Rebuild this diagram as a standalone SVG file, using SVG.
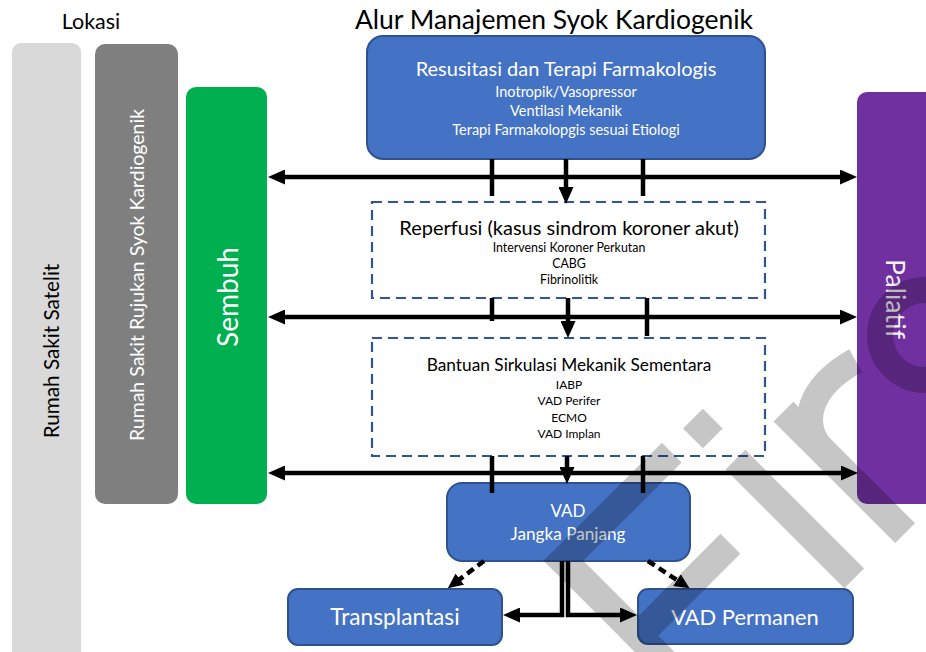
<svg xmlns="http://www.w3.org/2000/svg" width="926" height="652" viewBox="0 0 926 652">
<style>
text { font-family: Lato, "Open Sans", "Liberation Sans", sans-serif; }
.blk { fill: #000; }
.wht { fill: #fff; }
.bluebox { fill: #4472C4; stroke: #2F528F; stroke-width: 2; }
.dash { fill: none; stroke: #2F5597; stroke-width: 2.2; stroke-dasharray: 10 6; }
.conn { fill: none; stroke: #000; stroke-width: 4.5; }
.dconn { fill: none; stroke: #000; stroke-width: 4.5; stroke-dasharray: 8 5; }
</style>
<defs>
<marker id="ah" viewBox="0 0 17 15" markerWidth="17" markerHeight="15" refX="8" refY="7.5" orient="auto-start-reverse" markerUnits="userSpaceOnUse"><path d="M0,0 L17,7.5 L0,15 Z" fill="#000"/></marker>
<marker id="ahs" viewBox="0 0 15 14" markerWidth="15" markerHeight="14" refX="6" refY="7" orient="auto" markerUnits="userSpaceOnUse"><path d="M0,0 L15,7 L0,14 Z" fill="#000"/></marker>
</defs>
<rect width="926" height="652" fill="#fff"/>

<text x="91" y="29" font-size="21.5" text-anchor="middle" class="blk">Lokasi</text>
<text x="554" y="29" font-size="26.5" text-anchor="middle" class="blk">Alur Manajemen Syok Kardiogenik</text>

<g id="satelit">
<rect x="12" y="43" width="69" height="640" rx="9" fill="#D9D9D9"/>
<text transform="translate(59,351) rotate(-90)" font-size="20.7" text-anchor="middle" class="blk">Rumah Sakit Satelit</text>
</g>
<g id="rujukan">
<rect x="95" y="44" width="83" height="460" rx="10" fill="#7F7F7F"/>
<text transform="translate(144,275) rotate(-90)" font-size="19.5" text-anchor="middle" class="wht">Rumah Sakit Rujukan Syok Kardiogenik</text>
</g>
<g id="sembuh">
<rect x="186" y="87" width="81" height="417" rx="10" fill="#00B050"/>
<text transform="translate(238,297) rotate(-90)" font-size="28" text-anchor="middle" class="wht">Sembuh</text>
</g>
<g id="paliatif">
<rect x="857" y="92" width="90" height="412" rx="10" fill="#7030A0"/>
<text transform="translate(886,299) rotate(90)" font-size="26.5" text-anchor="middle" fill="#F2F2F2">Paliatif</text>
</g>

<g id="resusitasi">
<rect x="367" y="36" width="398" height="123" rx="16" class="bluebox"/>
<text x="566" y="76" font-size="20" text-anchor="middle" class="wht">Resusitasi dan Terapi Farmakologis</text>
<text x="566" y="97" font-size="14.5" text-anchor="middle" class="wht">Inotropik/Vasopressor</text>
<text x="566" y="116" font-size="14.5" text-anchor="middle" class="wht">Ventilasi Mekanik</text>
<text x="566" y="135" font-size="14.5" text-anchor="middle" class="wht">Terapi Farmakolopgis sesuai Etiologi</text>
</g>

<g id="reperfusi">
<rect x="372" y="202" width="393" height="96" class="dash"/>
<text x="569" y="235" font-size="20" text-anchor="middle" class="blk">Reperfusi (kasus sindrom koroner akut)</text>
<text x="569" y="252" font-size="12.4" text-anchor="middle" class="blk">Intervensi Koroner Perkutan</text>
<text x="569" y="268" font-size="12.4" text-anchor="middle" class="blk">CABG</text>
<text x="569" y="284" font-size="12.4" text-anchor="middle" class="blk">Fibrinolitik</text>
</g>

<g id="bantuan">
<rect x="372" y="338" width="393" height="118" class="dash"/>
<text x="569" y="371" font-size="17.3" text-anchor="middle" class="blk">Bantuan Sirkulasi Mekanik Sementara</text>
<text x="569" y="389" font-size="12" text-anchor="middle" class="blk">IABP</text>
<text x="569" y="405" font-size="12" text-anchor="middle" class="blk">VAD Perifer</text>
<text x="569" y="422" font-size="12" text-anchor="middle" class="blk">ECMO</text>
<text x="569" y="438" font-size="12" text-anchor="middle" class="blk">VAD Implan</text>
</g>

<g id="vad-jangka">
<rect x="447" y="483" width="243" height="78" rx="15" class="bluebox"/>
<text x="568" y="517" font-size="17" text-anchor="middle" class="wht">VAD</text>
<text x="568" y="540" font-size="17.2" text-anchor="middle" class="wht">Jangka Panjang</text>
</g>

<g id="transplantasi">
<rect x="288" y="589" width="214" height="56" rx="10" class="bluebox"/>
<text x="395" y="625" font-size="22.7" text-anchor="middle" class="wht">Transplantasi</text>
</g>

<g id="vad-permanen">
<rect x="638" y="589" width="215" height="55" rx="10" class="bluebox"/>
<text x="745" y="625" font-size="21.9" text-anchor="middle" class="wht">VAD Permanen</text>
</g>

<g id="connectors">
<line x1="277" y1="177" x2="848" y2="177" class="conn" marker-start="url(#ah)" marker-end="url(#ah)"/>
<line x1="277" y1="317" x2="848" y2="317" class="conn" marker-start="url(#ah)" marker-end="url(#ah)"/>
<line x1="277" y1="473" x2="849" y2="473" class="conn" marker-start="url(#ah)" marker-end="url(#ah)"/>

<line x1="492" y1="159" x2="492" y2="196" class="conn"/>
<line x1="566" y1="159" x2="566" y2="195" class="conn" marker-end="url(#ah)"/>
<line x1="643" y1="159" x2="643" y2="196" class="conn"/>

<line x1="492" y1="298" x2="492" y2="321" class="conn"/>
<line x1="568" y1="298" x2="568" y2="329" class="conn" marker-end="url(#ah)"/>
<line x1="647" y1="298" x2="647" y2="336" class="conn"/>

<line x1="492" y1="456" x2="492" y2="493" class="conn"/>
<line x1="567" y1="456" x2="567" y2="475" class="conn" marker-end="url(#ah)"/>
<line x1="643" y1="456" x2="643" y2="493" class="conn"/>

<path d="M484,561 L455,582.8" class="dconn" marker-end="url(#ahs)"/>
<path d="M648,561 L682,583.4" class="dconn" marker-end="url(#ahs)"/>

<path d="M562,561 V615 H512" class="conn" stroke-width="4" marker-end="url(#ah)"/>
<path d="M568,561 V615 H628" class="conn" stroke-width="4" marker-end="url(#ah)"/>
</g>

<g id="watermark" opacity="0.22">
<g transform="rotate(-45)" fill="#000">
<rect x="-12" y="781" width="28" height="330"/>
<rect x="-12" y="781" width="167" height="28"/>
<rect x="-12" y="887" width="144" height="28"/>
<rect x="180" y="786" width="28" height="28"/>
<rect x="181" y="845" width="28" height="168"/>
<rect x="249" y="845" width="28" height="172"/>
<path d="M263,905 C263,862 300,846 350,860" fill="none" stroke="#000" stroke-width="26"/>
</g>
<circle cx="925" cy="335" r="45" fill="none" stroke="#000" stroke-width="26"/>
</g>
</svg>
